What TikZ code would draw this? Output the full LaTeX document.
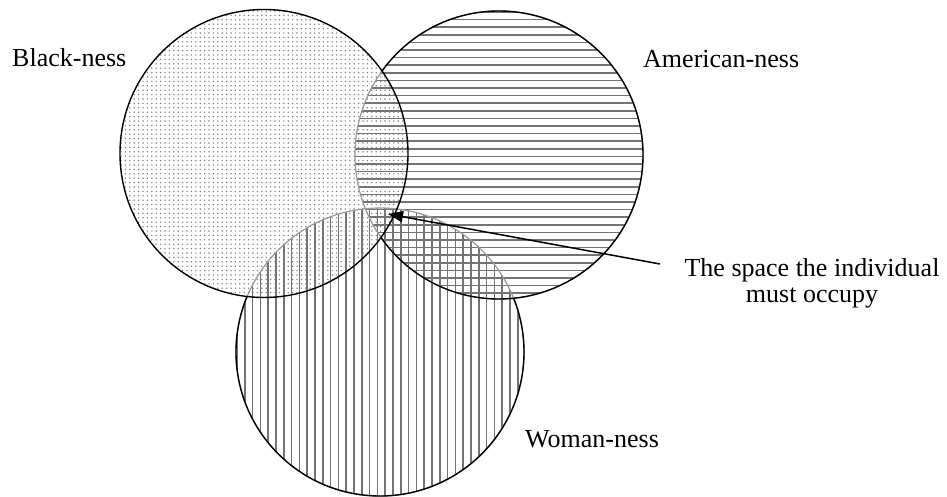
\documentclass[tikz,border=0pt]{standalone}
\usepackage{fontspec}
\setmainfont{Liberation Serif}
\usetikzlibrary{arrows.meta}
\begin{document}
\begin{tikzpicture}[x=1pt,y=-1pt,
  lbl/.style={inner sep=0pt,font=\fontsize{26}{30}\selectfont},
  ring/.style={line width=1.4pt,draw=black},
  faint/.style={line width=1.2pt,draw=black!40},
  hatch/.style={line width=1.5pt,draw=black!55},
  dotc/.style={fill=black!50}]
\useasboundingbox (0,0) rectangle (947,497);
\fill[white] (0,0) rectangle (947,497);
\def\rr{144}
\coordinate (B) at (264,153.5);
\coordinate (A) at (499,155);
\coordinate (W) at (380,352);
% Woman-ness: vertical lines
\begin{scope}
  \clip (W) circle (\rr);
  \foreach \x in {237,244.8,...,524} \draw[hatch] (\x,205) -- (\x,500);
\end{scope}
% American-ness: horizontal lines
\begin{scope}
  \clip (A) circle (\rr);
  \foreach \y in {12,19.6,...,300} \draw[hatch] (354,\y) -- (645,\y);
\end{scope}
% Black-ness: dots
\begin{scope}
  \clip (B) circle (\rr);
  \foreach \y in {11,15.4,...,298} {
    \foreach \x in {121,125.4,...,408} \fill[dotc] (\x,\y) circle (0.8);
  }
\end{scope}
% Woman outline: faint where covered, black outside others
\draw[faint] (W) circle (\rr);
\begin{scope}[even odd rule]
  \clip (-10,-10) rectangle (960,510) (B) circle (\rr);
  \begin{scope}[even odd rule]
    \clip (-10,-10) rectangle (960,510) (A) circle (\rr);
    \draw[ring] (W) circle (\rr);
  \end{scope}
\end{scope}
% American outline
\draw[faint] (A) circle (\rr);
\begin{scope}[even odd rule]
  \clip (-10,-10) rectangle (960,510) (B) circle (\rr);
  \draw[ring] (A) circle (\rr);
\end{scope}
% Black outline
\draw[ring] (B) circle (\rr);
% labels
\node[lbl,anchor=base west] (lb) at (12,67) {Black-ness};
\node[lbl,anchor=base west] (la) at (643,68) {American-ness};
\node[lbl,anchor=base west] (lw) at (525,447) {Woman-ness};
\node[lbl,anchor=base] (ls1) at (812,276) {The space the individual};
\node[lbl,anchor=base] (ls2) at (812,302) {must occupy};
\coordinate (tip) at (388,214);
\coordinate (tail) at (660,264);
\draw[line width=1.5pt,-{Triangle[length=15pt,width=11pt]}] (tail) -- (tip);
\end{tikzpicture}
\end{document}
